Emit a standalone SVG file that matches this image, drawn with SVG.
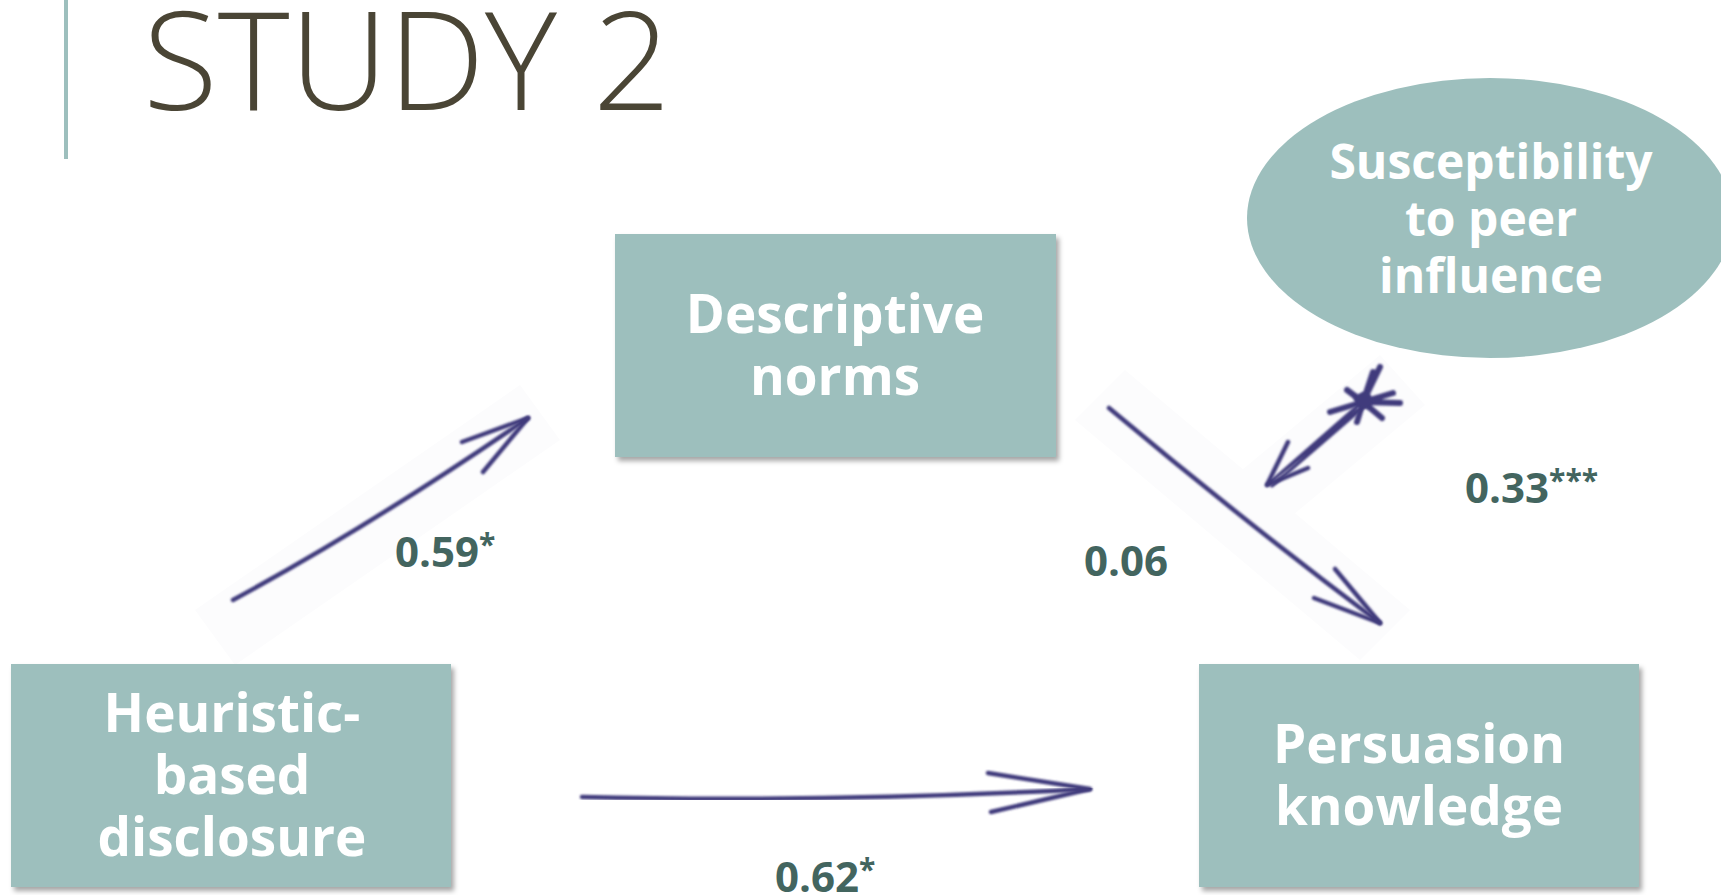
<svg xmlns="http://www.w3.org/2000/svg" width="1721" height="895" viewBox="0 0 1721 895">
<defs>
<filter id="sh" x="-5%" y="-5%" width="115%" height="120%">
<feDropShadow dx="3" dy="4" stdDeviation="2.5" flood-color="#000" flood-opacity="0.35"/>
</filter>
<filter id="blur" x="-10%" y="-10%" width="120%" height="120%">
<feGaussianBlur stdDeviation="0.8"/>
</filter>
</defs>
<style>
.box{fill:#9dbfbd;filter:url(#sh)}
.nt{font-family:"Open Sans","Noto Sans",sans-serif;font-weight:700;fill:#ffffff;text-anchor:middle}
.lb{font-family:"Open Sans","Noto Sans",sans-serif;font-weight:700;fill:#43655f;font-size:42px}
.sup{font-size:30px}
.ar{fill:none;stroke:#3f3b7c;stroke-width:4.5;stroke-linecap:round;stroke-linejoin:round;filter:url(#blur)}
.ar2{fill:none;stroke:#3f3b7c;stroke-width:3;stroke-linecap:round;stroke-linejoin:round;filter:url(#blur)}
.st{fill:none;stroke:#3f3b7c;stroke-width:6;stroke-linecap:round;filter:url(#blur)}
.bg{fill:#fcfcfd}
</style>
<rect width="1721" height="895" fill="#ffffff"/>
<rect x="64" y="0" width="4" height="159" fill="#9dbfbd"/>
<text x="143" y="110" font-family="'Open Sans','Noto Sans',sans-serif" font-weight="300" font-size="137" fill="#4a4535">STUDY 2</text>

<g id="backgrounds">
<polygon class="bg" points="195,610 520,385 560,440 235,665"/>
<polygon class="bg" points="1075,420 1125,370 1410,610 1360,660"/>
<polygon class="bg" points="1230,480 1380,355 1425,405 1275,530"/>
</g>

<g id="node-descriptive">
<rect class="box" x="615" y="234" width="441" height="223"/>
<text class="nt" font-size="53"><tspan x="835" y="333">Descriptive</tspan><tspan x="835" y="395">norms</tspan></text>
</g>
<g id="node-heuristic">
<rect class="box" x="11" y="664" width="440" height="223"/>
<text class="nt" font-size="53"><tspan x="232" y="732">Heuristic-</tspan><tspan x="232" y="794">based</tspan><tspan x="232" y="856">disclosure</tspan></text>
</g>
<g id="node-persuasion">
<rect class="box" x="1199" y="664" width="440" height="223"/>
<text class="nt" font-size="53"><tspan x="1419" y="763">Persuasion</tspan><tspan x="1419" y="825">knowledge</tspan></text>
</g>
<g id="node-susceptibility">
<ellipse cx="1490" cy="218" rx="243" ry="140" fill="#9dbfbd"/>
<text class="nt" font-size="48"><tspan x="1491" y="179">Susceptibility</tspan><tspan x="1491" y="236">to peer</tspan><tspan x="1491" y="293">influence</tspan></text>
</g>

<g id="connectors">
<path class="ar" d="M233,600 Q372,525 528,418"/>
<path class="ar" d="M462,442 L528,418 L483,472"/>
<path class="ar" d="M1109,408 Q1245,522 1380,623"/>
<path class="ar" d="M1335,569 L1380,623 L1314,598"/>
<path class="ar" d="M582,797 Q820,803 1090,789"/>
<path class="ar" d="M988,773 L1090,789 L991,812"/>
<path class="ar2" d="M1267,485 L1362,402 M1270,482 L1358,410 M1272,486 L1366,405"/>
<path class="ar" d="M1288,442 L1267,485 L1308,468"/>
<path class="st" d="M1363,402 L1380,367 M1363,402 L1400,403 M1363,402 L1330,412 M1363,402 L1357,422 M1363,402 L1347,390 M1363,402 L1393,393 M1363,402 L1382,418 M1363,402 L1373,372 M1356,398 L1370,408"/>
<circle cx="1364" cy="400" r="8" fill="#3f3b7c" filter="url(#blur)"/>
</g>

<g id="labels">
<text class="lb" x="395" y="567">0.59<tspan class="sup" dy="-12">*</tspan></text>
<text class="lb" x="1084" y="576">0.06</text>
<text class="lb" x="1465" y="503">0.33<tspan class="sup" dy="-12">***</tspan></text>
<text class="lb" x="775" y="892">0.62<tspan class="sup" dy="-12">*</tspan></text>
</g>
</svg>
